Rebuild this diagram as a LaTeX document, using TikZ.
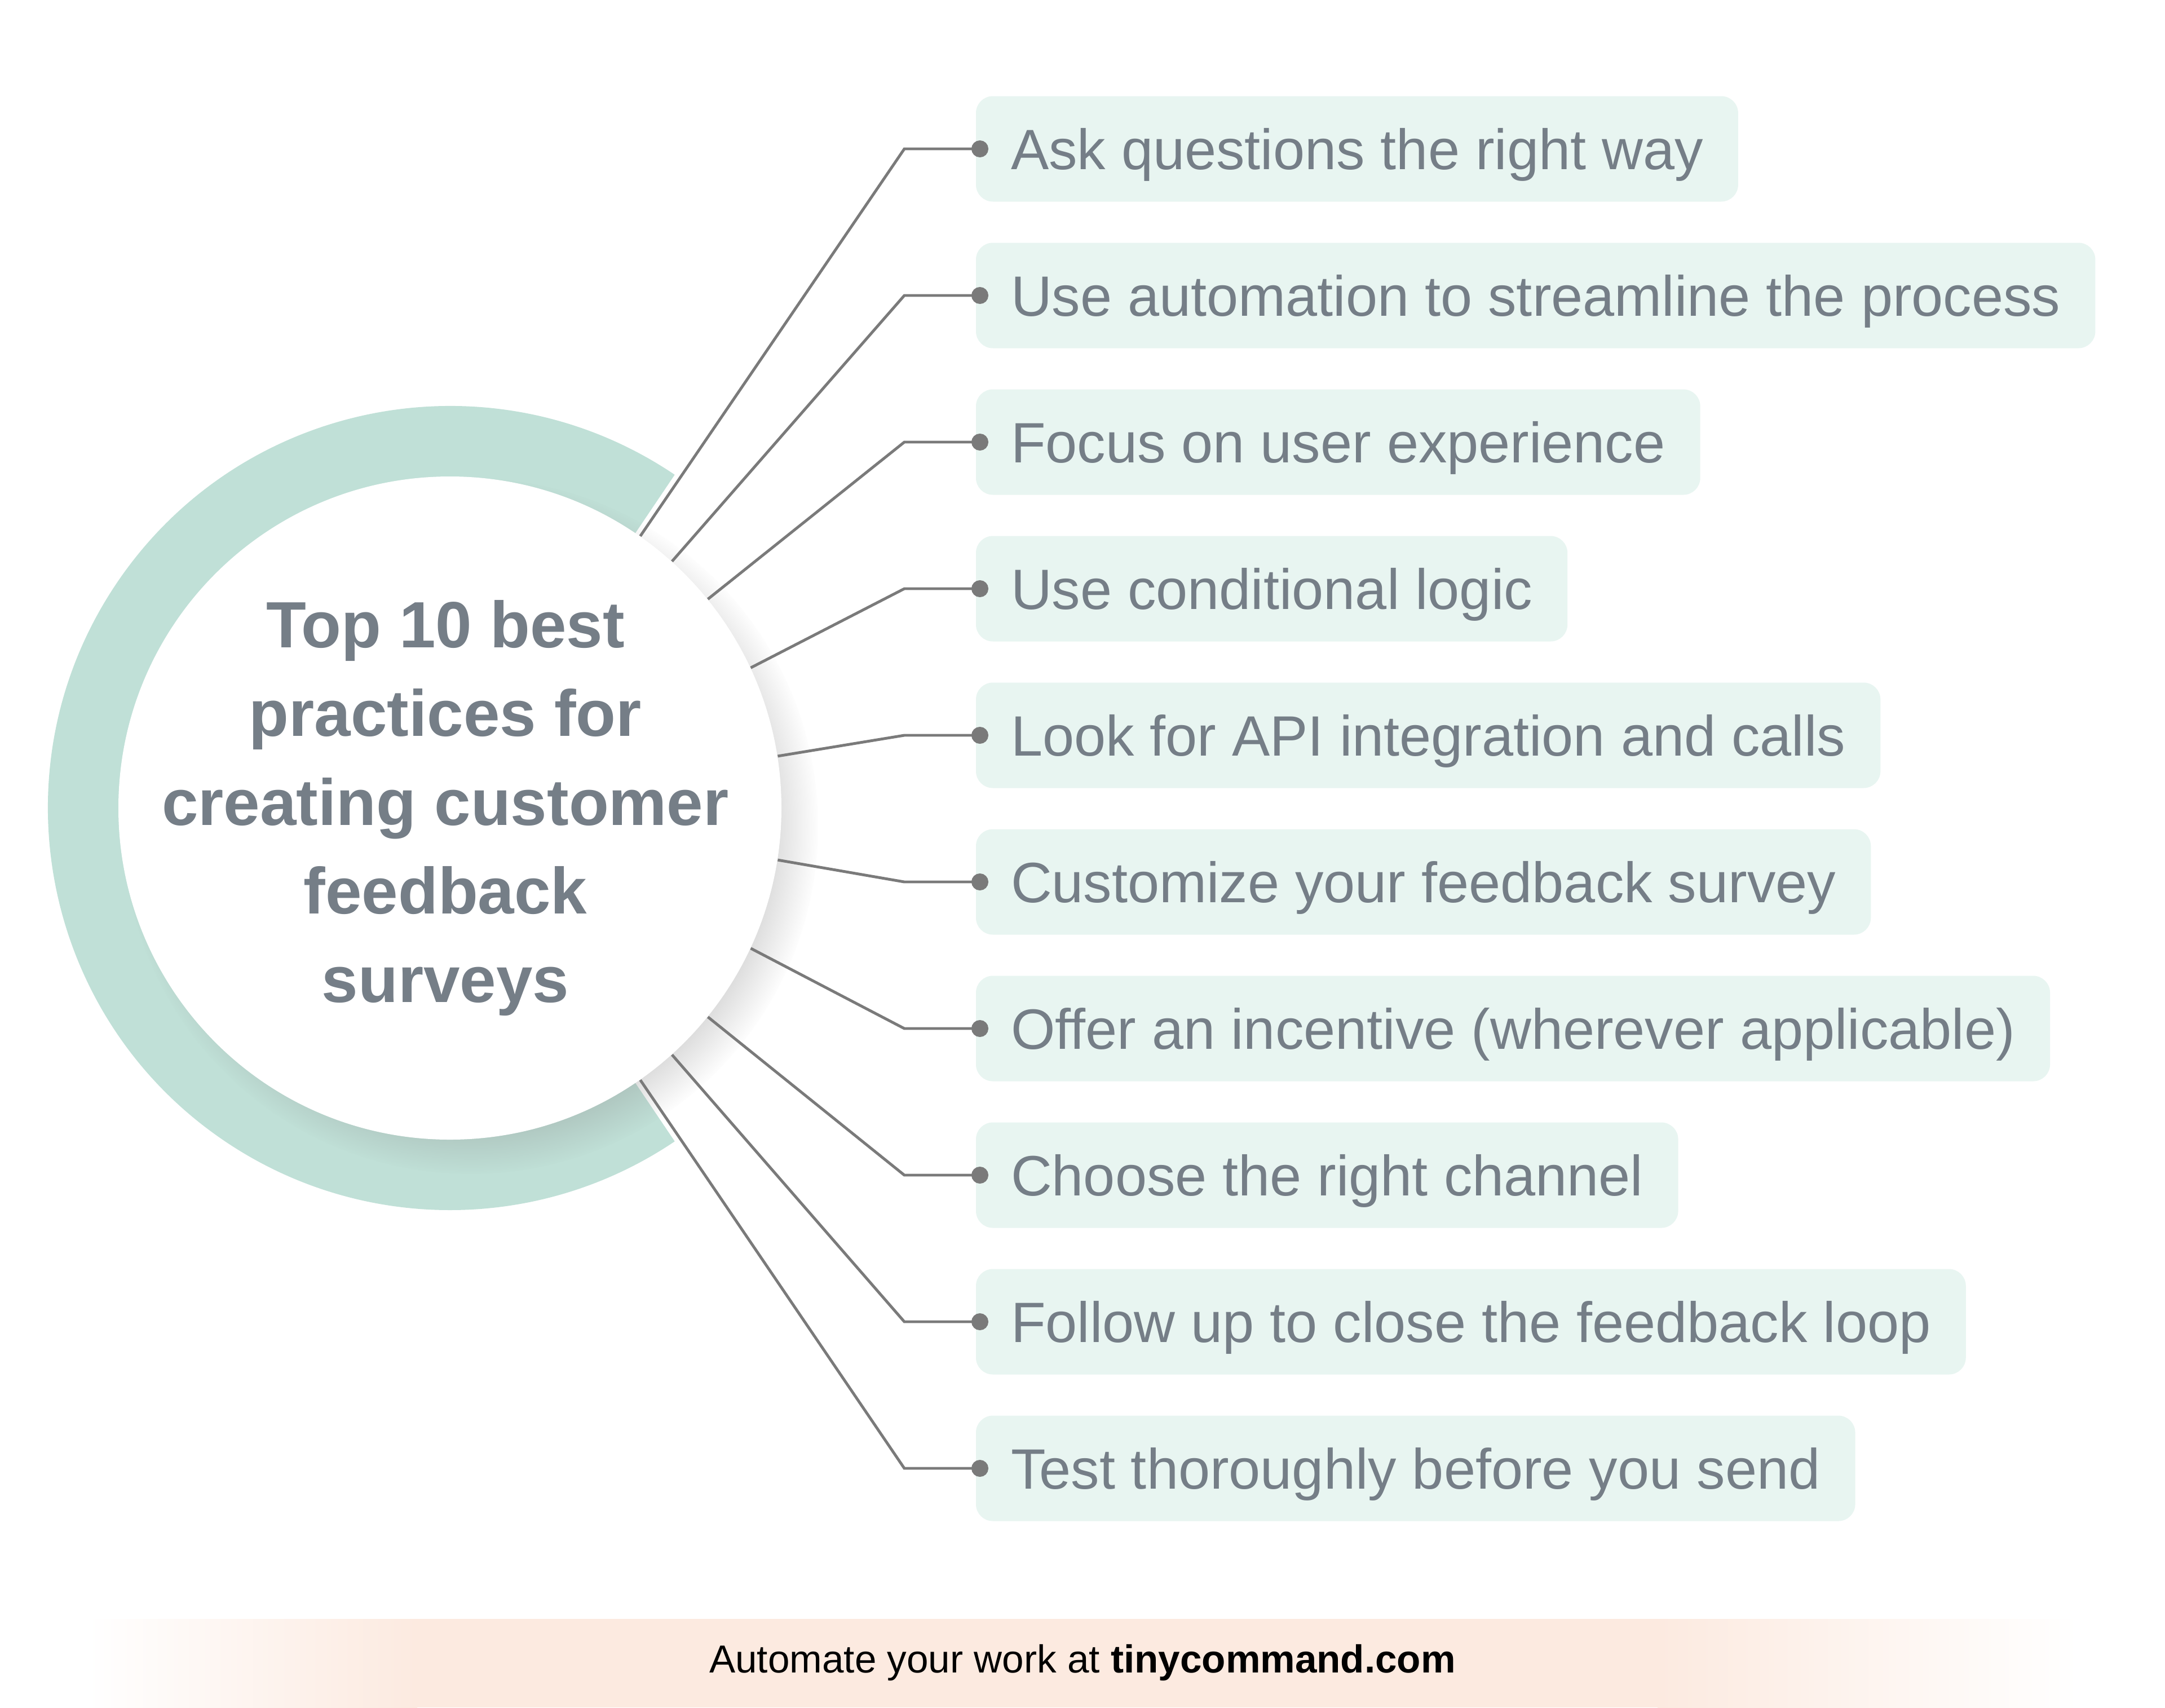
\documentclass[tikz,border=0pt]{standalone}
\usepackage{fontspec}
\setmainfont{Liberation Sans}
\usetikzlibrary{positioning,arrows.meta,shadows}

\definecolor{ringteal}{HTML}{C0E0D7}
\definecolor{boxmint}{HTML}{E8F5F1}
\definecolor{slate}{HTML}{757E87}
\definecolor{wiregray}{HTML}{7A7A7A}
\definecolor{peach}{HTML}{FCEAE0}

\tikzset{
  item/.style={fill=boxmint, rounded corners=0.3cm, inner xsep=0.62cm, minimum height=1.87cm, outer sep=0pt,
    text height=20.6pt, text depth=0pt, text=slate, font=\fontsize{28.7}{34}\selectfont},
  link/.style={draw=wiregray, line width=1.4pt, -{Circle[length=3mm]}},
}

\begin{document}
\begin{tikzpicture}
    \useasboundingbox (0,0) rectangle (38.4,-30.28);
    \fill[white] (0,0) rectangle (38.4,-30.28);

    % circle with ring
    \coordinate (HubC) at (7.98,-14.33);
    \fill[ringteal] (HubC) -- ++(56:7.13) arc[start angle=56, end angle=304, radius=7.13] -- cycle;
    \node[circle, fill=white, minimum size=11.76cm, inner sep=0pt,
      circular drop shadow={shadow xshift=0.35cm, shadow yshift=-0.3cm, shadow scale=1.05, opacity=0.3}] (Hub) at (HubC) {};
    \node[text=slate, align=center, font=\fontsize{33}{44.7}\selectfont\bfseries] (Title) at (7.9,-14.33)
      {Top 10 best\\practices for\\creating customer\\feedback\\surveys};

    % the ten practices
    \node[item, anchor=west] (AskRight) at (17.31,-2.64) {Ask questions the right way};
    \node[item, below right=0.73cm and 0cm of AskRight.south west] (Automation) {Use automation to streamline the process};
    \node[item, below right=0.73cm and 0cm of Automation.south west] (UserExp) {Focus on user experience};
    \node[item, below right=0.73cm and 0cm of UserExp.south west] (CondLogic) {Use conditional logic};
    \node[item, below right=0.73cm and 0cm of CondLogic.south west] (ApiCalls) {Look for API integration and calls};
    \node[item, below right=0.73cm and 0cm of ApiCalls.south west] (Customize) {Customize your feedback survey};
    \node[item, below right=0.73cm and 0cm of Customize.south west] (Incentive) {Offer an incentive (wherever applicable)};
    \node[item, below right=0.73cm and 0cm of Incentive.south west] (Channel) {Choose the right channel};
    \node[item, below right=0.73cm and 0cm of Channel.south west] (FollowUp) {Follow up to close the feedback loop};
    \node[item, below right=0.73cm and 0cm of FollowUp.south west] (TestSend) {Test thoroughly before you send};

    % connectors
    \coordinate (Bend) at (16.04,0);
    \draw[link] (Hub.55.7) -- (AskRight.west -| Bend) -- ([xshift=2.2mm]AskRight.west);
    \draw[link] (Hub.48.9) -- (Automation.west -| Bend) -- ([xshift=2.2mm]Automation.west);
    \draw[link] (Hub.39.5) -- (UserExp.west -| Bend) -- ([xshift=2.2mm]UserExp.west);
    \draw[link] (Hub.25.9) -- (CondLogic.west -| Bend) -- ([xshift=2.2mm]CondLogic.west);
    \draw[link] (Hub.9.6) -- (ApiCalls.west -| Bend) -- ([xshift=2.2mm]ApiCalls.west);
    \draw[link] (Hub.-9.6) -- (Customize.west -| Bend) -- ([xshift=2.2mm]Customize.west);
    \draw[link] (Hub.-25.9) -- (Incentive.west -| Bend) -- ([xshift=2.2mm]Incentive.west);
    \draw[link] (Hub.-39.5) -- (Channel.west -| Bend) -- ([xshift=2.2mm]Channel.west);
    \draw[link] (Hub.-48.9) -- (FollowUp.west -| Bend) -- ([xshift=2.2mm]FollowUp.west);
    \draw[link] (Hub.-55.7) -- (TestSend.west -| Bend) -- ([xshift=2.2mm]TestSend.west);

    % footer band
    \shade[left color=white, right color=peach] (1.55,-28.71) rectangle (7.4,-30.28);
    \fill[peach] (7.4,-28.71) rectangle (29.4,-30.28);
    \shade[left color=peach, right color=white] (29.4,-28.71) rectangle (36.88,-30.28);
    \node[text=black, font=\fontsize{19.7}{24}\selectfont] (Footer) at (19.2,-29.49)
      {Automate your work at \textbf{tinycommand.com}};
\end{tikzpicture}
\end{document}
